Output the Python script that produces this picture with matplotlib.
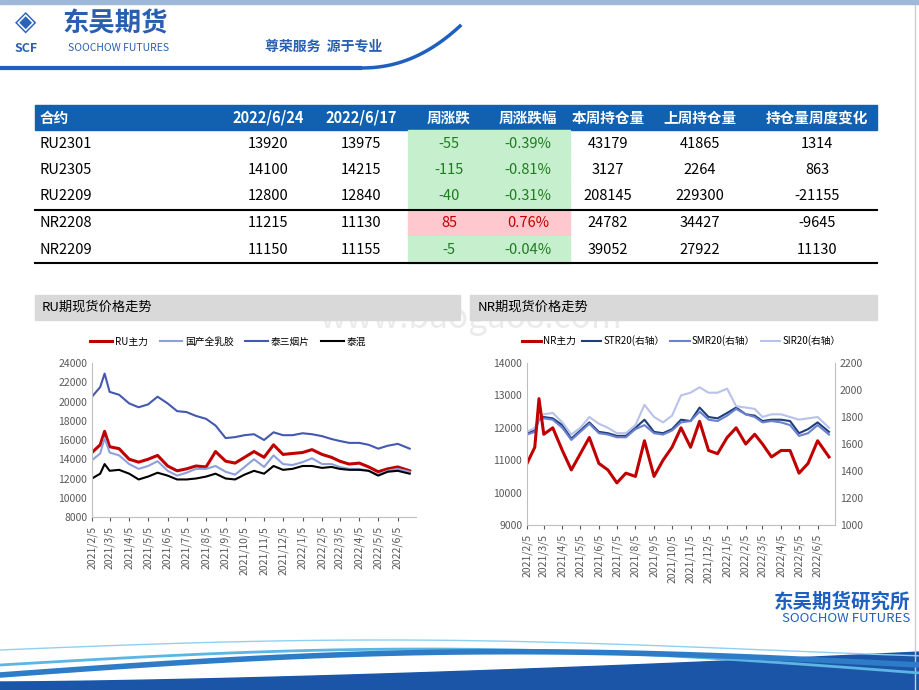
import matplotlib
matplotlib.use("Agg")
import matplotlib.pyplot as plt
import matplotlib.dates as mdates
import numpy as np
import pandas as pd
from matplotlib.patches import Rectangle

plt.rcParams["font.family"] = ["Noto Sans CJK SC", "DejaVu Sans"]

dates = ["2021-02-05","2021-02-18","2021-02-25","2021-03-05","2021-03-20","2021-04-05","2021-04-20",
         "2021-05-05","2021-05-20","2021-06-05","2021-06-20","2021-07-05","2021-07-20","2021-08-05",
         "2021-08-20","2021-09-05","2021-09-20","2021-10-05","2021-10-20","2021-11-05","2021-11-20",
         "2021-12-05","2021-12-20","2022-01-05","2022-01-20","2022-02-05","2022-02-20","2022-03-05",
         "2022-03-20","2022-04-05","2022-04-20","2022-05-05","2022-05-20","2022-06-05","2022-06-24"]
ru_main = [14700,15500,16900,15300,15100,14000,13700,14000,14400,13300,12800,13000,13300,13200,14800,13800,13600,14200,14800,14200,15500,14500,14600,14700,15000,14500,14200,13800,13500,13600,13200,12700,13000,13200,12800]
ru_domestic = [13900,14600,16200,14700,14400,13500,13000,13300,13800,12800,12300,12600,13000,13000,13300,12700,12400,13200,14000,13200,14400,13500,13400,13700,14100,13500,13500,13200,13000,13000,12800,12400,12800,13000,12700]
ru_rss3 = [20500,21500,22900,21000,20700,19800,19400,19700,20500,19800,19000,18900,18500,18200,17500,16200,16300,16500,16600,16000,16800,16500,16500,16700,16600,16400,16100,15900,15700,15700,15500,15100,15400,15600,15100]
ru_mix = [12000,12500,13500,12800,12900,12500,11900,12200,12600,12300,11900,11900,12000,12200,12500,12000,11900,12400,12800,12500,13300,12900,13000,13300,13300,13100,13200,13000,12900,12900,12800,12300,12700,12800,12500]
nr_main = [10900,11400,12900,11800,12000,11300,10700,11200,11700,10900,10700,10300,10600,10500,11600,10500,11000,11400,12000,11400,12200,11300,11200,11700,12000,11500,11800,11500,11100,11300,11300,10600,10900,11600,11100]
str20 = [1680,1700,1790,1800,1790,1740,1640,1700,1760,1690,1680,1660,1660,1720,1780,1690,1680,1710,1780,1770,1870,1800,1790,1830,1870,1820,1810,1770,1780,1780,1770,1680,1710,1760,1690]
smr20 = [1670,1690,1780,1790,1780,1720,1630,1690,1750,1680,1670,1650,1650,1710,1740,1680,1670,1700,1760,1770,1840,1780,1770,1810,1860,1820,1800,1760,1770,1760,1740,1660,1680,1740,1670]
sir20 = [1690,1720,1800,1820,1830,1760,1670,1720,1800,1750,1720,1680,1680,1740,1890,1800,1760,1810,1960,1980,2020,1980,1980,2010,1880,1870,1860,1800,1820,1820,1800,1780,1790,1800,1720]

tbl_header = ["合约","2022/6/24","2022/6/17","周涨跌","周涨跌幅","本周持仓量","上周持仓量","持仓量周度变化"]
contracts = ["RU2301","RU2305","RU2209","NR2208","NR2209"]
price_0624 = [13920,14100,12800,11215,11150]
price_0617 = [13975,14215,12840,11130,11155]
wk_change = [-55,-115,-40,85,-5]
wk_pct = ["-0.39%","-0.81%","-0.31%","0.76%","-0.04%"]
oi_this = [43179,3127,208145,24782,39052]
oi_last = [41865,2264,229300,34427,27922]
oi_change = [1314,863,-21155,-9645,11130]

W, H = 920, 690
fig = plt.figure(figsize=(9.2, 6.9), dpi=100)
bg = fig.add_axes([0, 0, 1, 1])
bg.set_xlim(0, W); bg.set_ylim(H, 0); bg.axis("off")

# header decorations
bg.add_patch(Rectangle((0, 0), W, 4, color="#9DB8D9"))
tt = np.linspace(0, 1, 60)
bg.plot(360 + 100*tt, 68 - 42*tt**2.2, color="#1F5FBF", lw=2.5)
bg.plot([0, 360], [68, 68], color="#1F5FBF", lw=3)
bg.plot([W-5, W-5], [5, 690], color="#CCCCCC", lw=1)
bg.text(15, 22, "◈", fontsize=20, color="#2A63B8", va="center")
bg.text(62, 24, "东吴期货", fontsize=19, fontweight="bold", color="#2A5FB0", va="center")
bg.text(15, 48, "SCF", fontsize=9, fontweight="bold", color="#2A5FB0", va="center")
bg.text(68, 48, "SOOCHOW FUTURES", fontsize=7.5, color="#2A5FB0", va="center")
bg.text(265, 47, "尊荣服务  源于专业", fontsize=10, fontweight="bold", color="#2A5FB0", va="center")

# footer
bg.text(910, 602, "东吴期货研究所", fontsize=14, fontweight="bold", color="#1F5FBF", ha="right", va="center")
bg.text(910, 619, "SOOCHOW FUTURES", fontsize=9.5, color="#1F5FBF", ha="right", va="center")
xs = np.linspace(0, W, 100)
bg.plot(xs, 665 - 22*np.sin(xs/W*np.pi)*0.9 + 8*(xs/W), color="#5BB6E3", lw=2)
bg.plot(xs, 675 - 18*np.sin(xs/W*np.pi) - 10*(xs/W), color="#2E7CC8", lw=4)
bg.fill_between(xs, 690, 682 - 30*(xs/W)**1.5, color="#1A55A8")
bg.plot(xs, 650 - 10*np.sin(xs/W*np.pi*1.2), color="#8FD0F0", lw=1)

# table
left, right = 35, 877
bg.add_patch(Rectangle((left, 105), right-left, 25, color="#1260B0"))
col_x = [40, 268, 361, 449, 528, 608, 700, 817]
for i, h in enumerate(tbl_header):
    bg.text(col_x[i], 117.5, h, ha="left" if i == 0 else "center", va="center",
            color="white", fontsize=10.5, fontweight="bold")
row_y = [143.5, 170, 196.5, 223, 249.5]
for r in range(5):
    up = wk_change[r] > 0
    fc = "#FFC7CE" if up else "#C6EFCE"
    tc = "#C00000" if up else "#1E7B1E"
    bg.add_patch(Rectangle((408, row_y[r]-13.25), 162, 26.5, color=fc))
    vals = [contracts[r], price_0624[r], price_0617[r], wk_change[r], wk_pct[r], oi_this[r], oi_last[r], oi_change[r]]
    for i, v in enumerate(vals):
        bg.text(col_x[i], row_y[r], str(v), ha="left" if i == 0 else "center", va="center",
                fontsize=10.5, color=tc if i in (3, 4) else "black")
bg.plot([left, right], [210, 210], color="black", lw=1.5)
bg.plot([left, right], [263, 263], color="black", lw=1.5)

# chart title bars
bg.add_patch(Rectangle((35, 295), 425, 25, color="#D9D9D9"))
bg.text(42, 307.5, "RU期现货价格走势", fontsize=9.5, va="center")
bg.add_patch(Rectangle((470, 295), 407, 25, color="#D9D9D9"))
bg.text(478, 307.5, "NR期现货价格走势", fontsize=9.5, va="center")
bg.text(470, 318, "www.baogao8.com", fontsize=24, color="#EBEBEB", va="center", ha="center", zorder=0)

d = pd.to_datetime(dates)
ticks = pd.date_range("2021-02-01", "2022-06-05", freq="MS") + pd.Timedelta(days=4)

def fmt(x, pos=None):
    t = mdates.num2date(x)
    return f"{t.year}/{t.month}/{t.day}"

def style(ax):
    ax.set_xlim(d[0], d[-1] + pd.Timedelta(days=10))
    ax.set_xticks(ticks)
    ax.xaxis.set_major_formatter(plt.FuncFormatter(fmt))
    ax.tick_params(axis="x", rotation=90, labelsize=7.5, colors="#595959", length=3)
    ax.tick_params(axis="y", labelsize=7.5, colors="#595959", length=0)
    for s in ["top", "right"]:
        ax.spines[s].set_visible(False)
    ax.spines["left"].set_color("#BFBFBF")
    ax.spines["bottom"].set_color("#BFBFBF")
    ax.patch.set_alpha(0)

def fa(x0, y0, x1, y1):
    return fig.add_axes([x0/W, 1-y1/H, (x1-x0)/W, (y1-y0)/H])

ax1 = fa(92, 363, 416, 517)
ax1.plot(d, ru_main, color="#C00000", lw=2.2, label="RU主力")
ax1.plot(d, ru_domestic, color="#8EA0DC", lw=1.5, label="国产全乳胶")
ax1.plot(d, ru_rss3, color="#4358B0", lw=1.5, label="泰三烟片")
ax1.plot(d, ru_mix, color="black", lw=1.5, label="泰混")
ax1.set_ylim(8000, 24000)
ax1.set_yticks(range(8000, 24001, 2000))
style(ax1)
ax1.legend(loc="lower center", bbox_to_anchor=(0.42, 1.05), ncol=4, frameon=False,
           fontsize=7, handlelength=2.3, handletextpad=0.3, columnspacing=1.2)

ax2 = fa(527, 363, 835, 525)
l1, = ax2.plot(d, nr_main, color="#C00000", lw=2.2, label="NR主力")
ax2.set_ylim(9000, 14000)
ax2.set_yticks(range(9000, 14001, 1000))
style(ax2)
ax3 = ax2.twinx()
l2, = ax3.plot(d, str20, color="#1F3F7A", lw=1.5, label="STR20(右轴）")
l3, = ax3.plot(d, smr20, color="#6A80D0", lw=1.5, label="SMR20(右轴）")
l4, = ax3.plot(d, sir20, color="#B8C2EA", lw=1.5, label="SIR20(右轴）")
ax2.set_zorder(ax3.get_zorder()+1)
ax3.set_ylim(1000, 2200)
ax3.set_yticks(range(1000, 2201, 200))
ax3.tick_params(axis="y", labelsize=7.5, colors="#595959", length=0)
for s in ["top", "left"]:
    ax3.spines[s].set_visible(False)
ax3.spines["right"].set_color("#BFBFBF")
ax3.spines["bottom"].set_visible(False)
ax2.legend(handles=[l1, l2, l3, l4], loc="lower center", bbox_to_anchor=(0.5, 1.05), ncol=4,
           frameon=False, fontsize=7, handlelength=2.0, handletextpad=0.2, columnspacing=0.6)

fig.savefig("out.png", dpi=100)
